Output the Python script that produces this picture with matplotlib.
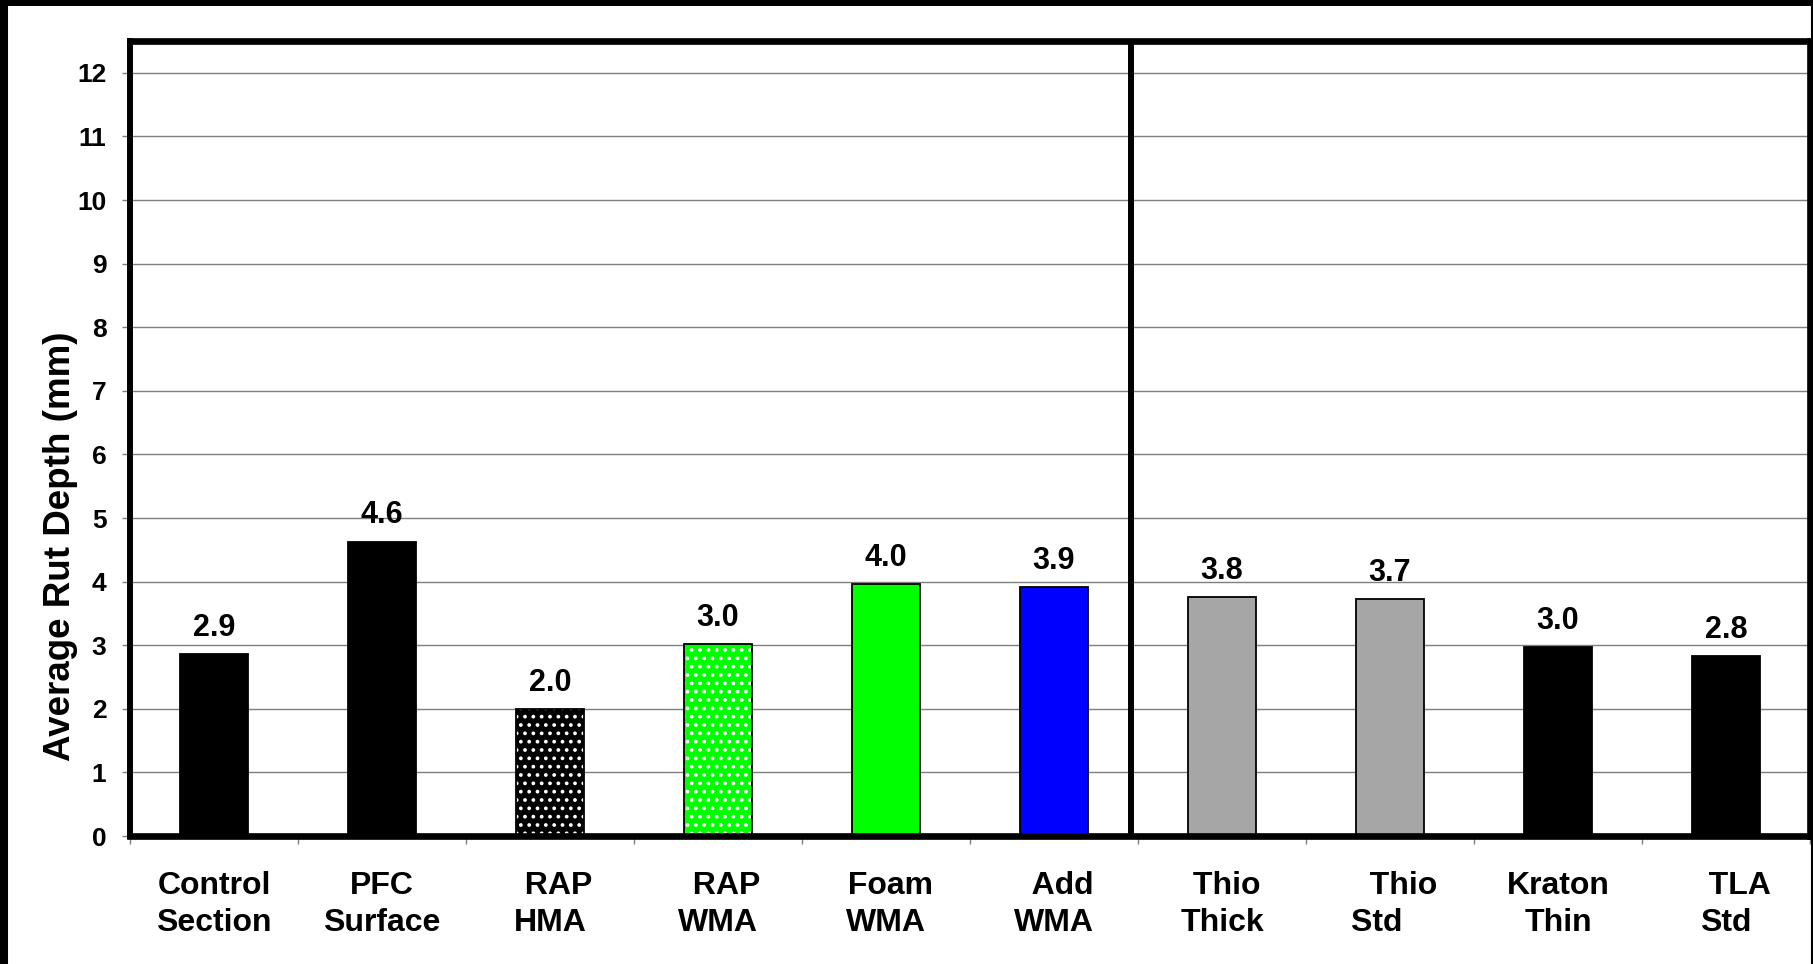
import numpy as np
import matplotlib
matplotlib.use("Agg")
import matplotlib.pyplot as plt
from matplotlib.lines import Line2D

plt.rcParams['font.family'] = ['Liberation Sans', 'DejaVu Sans']
plt.rcParams['font.weight'] = 'bold'
plt.rcParams['hatch.linewidth'] = 1.5

# data
sections = ["Control\nSection", "PFC\nSurface", "  RAP\nHMA", "  RAP\nWMA",
            " Foam\nWMA", "  Add\nWMA", " Thio\nThick", "   Thio\nStd   ",
            "Kraton\nThin", "   TLA\nStd"]
rut_depth = [2.86, 4.63, 2.00, 3.02, 3.96, 3.92, 3.76, 3.72, 2.97, 2.83]
bar_colors = ["black", "black", "black", "#00ff00", "#00ff00", "#0000ff",
              "#a6a6a6", "#a6a6a6", "black", "black"]
dotted = [False, False, True, True, False, False, False, False, False, False]
yticks = list(range(0, 13))

W, H = 1813, 964
fig = plt.figure(figsize=(W / 100, H / 100), dpi=100)
ax = fig.add_axes([130 / W, 1 - 836 / H, 1680 / W, 795 / H])

x = np.arange(len(sections))
for xi, h, c, d in zip(x, rut_depth, bar_colors, dotted):
    if d:
        # white dot pattern on the fill, border drawn separately
        ax.bar(xi, h, width=0.4, color=c, edgecolor='white', hatch='..',
               linewidth=0, zorder=2)
        ax.bar(xi, h, width=0.4, fill=False, edgecolor='black',
               linewidth=1.3, zorder=3)
    else:
        ax.bar(xi, h, width=0.4, color=c, edgecolor='black',
               linewidth=1.3, zorder=2)
    ax.annotate(f"{h:.1f}", (xi, h), xytext=(0, 8), textcoords='offset points',
                ha='center', va='bottom', fontsize=22, fontweight='bold')

ax.set_xlim(-0.5, len(sections) - 0.5)
ax.set_ylim(0, 12.5)
ax.set_yticks(yticks)
ax.yaxis.grid(True, color='#7f7f7f', linewidth=1.0)
ax.set_axisbelow(True)

ax.set_xticks(x)
ax.set_xticklabels(sections, fontsize=23, fontweight='bold', linespacing=1.3)
ax.set_xticks(np.arange(-0.5, len(sections), 1), minor=True)
ax.tick_params(axis='x', which='major', length=0, pad=25)
ax.tick_params(axis='x', which='minor', length=6, width=1, color='#7f7f7f',
               direction='out')
ax.tick_params(axis='y', length=6, width=1, color='#7f7f7f', direction='out',
               labelsize=19, pad=11)
for lab in ax.get_yticklabels():
    lab.set_fontweight('bold')

ax.set_ylabel("Average Rut Depth (mm)", fontsize=26.5, fontweight='bold')
ax.yaxis.set_label_coords(-0.031, 0.365)

for s in ['left', 'top', 'bottom', 'right']:
    ax.spines[s].set_linewidth(4.8)
    ax.spines[s].set_color('black')
ax.spines['left'].set_linewidth(4.3)

# divider between the two groups of sections
ax.axvline(5.46, color='black', linewidth=4.3, zorder=4)

# outer frame of the picture
fig.add_artist(Line2D([4 / W, 4 / W], [0, 1], color='black', linewidth=5.8,
                      transform=fig.transFigure))
fig.add_artist(Line2D([0, 1], [1 - 3 / H, 1 - 3 / H], color='black',
                      linewidth=4.3, transform=fig.transFigure))
fig.add_artist(Line2D([1 - 1 / W, 1 - 1 / W], [0, 1], color='black',
                      linewidth=1.5, transform=fig.transFigure))

fig.savefig('out.png', dpi=100)
